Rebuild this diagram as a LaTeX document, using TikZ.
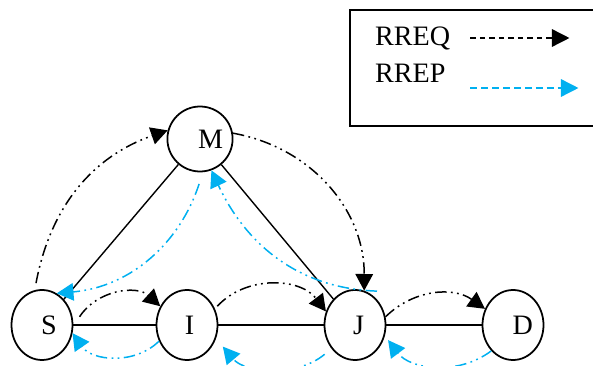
\documentclass[tikz,border=0pt]{standalone}
\usepackage{fontspec}
\setmainfont{Liberation Serif}
\usetikzlibrary{shapes.geometric,arrows.meta}
\definecolor{repblue}{RGB}{0,176,240}

\begin{document}
\begin{tikzpicture}[
		font=\fontsize{16}{19}\selectfont,
		stn/.style={draw, ellipse, line width=1pt, inner sep=0pt, minimum width=1.22cm, minimum height=1.40cm},
		link/.style={line width=0.8pt},
		req/.style={line width=0.85pt, dash pattern=on 6.5pt off 2.5pt on 1pt off 2.5pt on 1pt off 2.5pt, -{Triangle[length=9.5pt,width=10pt]}},
		rep/.style={req, repblue},
		reqkey/.style={line width=0.85pt, dash pattern=on 3pt off 2.4pt, -{Triangle[length=10pt,width=10pt]}},
		repkey/.style={reqkey, repblue, dash pattern=on 4pt off 2.2pt}
	]
		\useasboundingbox (0,0) rectangle (11.86,7.30);
		\draw[line width=1pt] (7.0,4.78) rectangle (12.2,7.10);
		\node[anchor=west] (rreq) at (7.38,6.54) {RREQ};
		\node[anchor=west] (rrep) at (7.38,5.84) {RREP};
		\draw[reqkey] ([xshift=8pt]rreq.east) -- ++(1.98,0);
		\draw[repkey] ([xshift=8pt,yshift=-1.0cm]rreq.east) -- ++(2.16,0);

		\node[stn] (S) at (0.84,0.80) {\hspace*{8pt}S};
		\node[stn] (I) at (3.74,0.80) {\hspace*{3pt}I};
		\node[stn] (J) at (7.10,0.80) {\hspace*{4pt}J};
		\node[stn] (D) at (10.26,0.80) {\hspace*{11pt}D};
		\node[stn, minimum width=1.28cm, minimum height=1.30cm] (M) at (4.0,4.52) {\hspace*{12pt}M};

		\draw[link] (S) -- (M);
		\draw[link] (M) -- (J);
		\draw[link] (S) -- (I);
		\draw[link] (I) -- (J);
		\draw[link] (J) -- (D);

		\draw[req] ([xshift=-0.12cm,yshift=0.12cm]S.north) to[bend left=30] (M.165);
		\draw[req] (M.10) to[bend left=40] (J.75);
		\draw[req] ([xshift=4pt]S.15) to[bend left=50] (I.145);
		\draw[req] ([xshift=2pt]I.35) to[bend left=50] (J.155);
		\draw[req] (J.15) to[bend left=40] (D.150);

		\draw[rep] ([xshift=0.44cm,yshift=-0.04cm]J.north) to[out=178,in=-65] (M.-70);
		\draw[rep, shorten <=7pt] (M.-85) to[out=-108,in=5] (S.65);
		\draw[rep] (I.-150) to[bend left=50] (S.-15);
		\draw[rep, shorten <=5pt, shorten >=6pt] (J.-135) to[bend left=45] (I.-25);
		\draw[rep, shorten >=3pt] (D.-130) to[bend left=45] (J.-20);
	\end{tikzpicture}
\end{document}
